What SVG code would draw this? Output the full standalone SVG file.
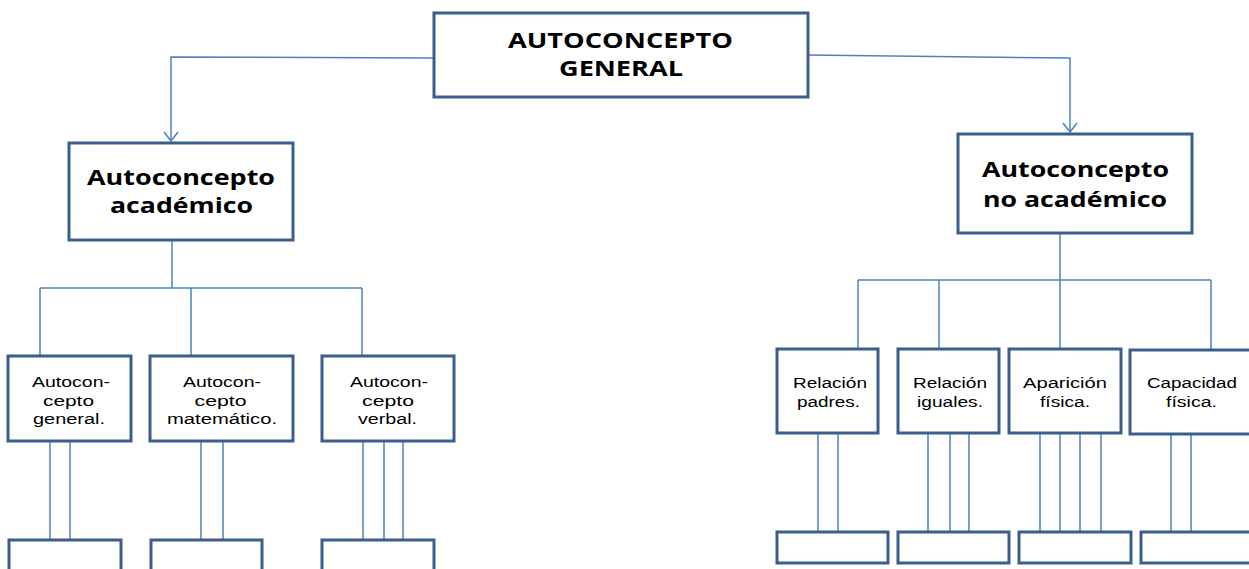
<svg xmlns="http://www.w3.org/2000/svg" width="1249" height="569" viewBox="0 0 1249 569">
<style>
.box{fill:#fff;stroke:#3B5E8C;stroke-width:3}
.con{fill:none;stroke:#4F81BD;stroke-width:1.5}
.t{font-family:"Open Sans","Liberation Sans",sans-serif;fill:#000;text-anchor:middle}
.b{font-weight:bold;font-size:22px}
.s{font-family:"Liberation Sans","Open Sans",sans-serif;font-size:15.5px}
</style>
<defs>
<marker id="arr" markerUnits="userSpaceOnUse" markerWidth="12" markerHeight="16" refX="9" refY="7" orient="auto" viewBox="-1 -1 12 16">
<path d="M0,0 L9,7 L0,14" fill="none" stroke="#4F81BD" stroke-width="1.5"/>
</marker>
</defs>
<rect width="1249" height="569" fill="#fff"/>
<g id="connectors">
<path class="con" d="M433,58 L171,57 L171,141" marker-end="url(#arr)"/>
<path class="con" d="M808,55 L1070,58 L1070,132" marker-end="url(#arr)"/>
<path class="con" d="M172,240 V288 M40,288 H362 M40,288 V356 M191,288 V356 M362,288 V356"/>
<path class="con" d="M50,441 V540 M70,441 V540 M201,441 V540 M223,441 V540 M363,441 V540 M384,441 V540 M403,441 V540"/>
<path class="con" d="M1060,233 V280 M858,280 H1211 M858,280 V349 M939,280 V349 M1060,280 V349 M1211,280 V350"/>
<path class="con" d="M818,433 V532 M838,433 V532 M928,433 V532 M950,433 V532 M969,433 V532 M1040,433 V532 M1060,433 V532 M1080,433 V532 M1101,433 V532 M1171,434 V532 M1191,434 V532"/>
</g>
<g id="n-general">
<rect class="box" x="434" y="13" width="374" height="84"/>
<text class="t b" x="620.5" y="48" textLength="225" lengthAdjust="spacingAndGlyphs">AUTOCONCEPTO</text>
<text class="t b" x="621" y="76" textLength="124" lengthAdjust="spacingAndGlyphs">GENERAL</text>
</g>
<g id="n-academico">
<rect class="box" x="69" y="143" width="224" height="97"/>
<text class="t b" x="181" y="185" textLength="188" lengthAdjust="spacingAndGlyphs">Autoconcepto</text>
<text class="t b" x="181.5" y="213" textLength="143" lengthAdjust="spacingAndGlyphs">académico</text>
</g>
<g id="n-noacademico">
<rect class="box" x="958" y="134" width="234" height="99"/>
<text class="t b" x="1075.5" y="177" textLength="187" lengthAdjust="spacingAndGlyphs">Autoconcepto</text>
<text class="t b" x="1075" y="207" textLength="184" lengthAdjust="spacingAndGlyphs">no académico</text>
</g>
<g id="n-ac-general">
<rect class="box" x="8" y="356" width="123" height="85"/>
<text class="t s" x="71" y="387" textLength="78" lengthAdjust="spacingAndGlyphs">Autocon-</text>
<text class="t s" x="68.5" y="406" textLength="51" lengthAdjust="spacingAndGlyphs">cepto</text>
<text class="t s" x="69" y="424" textLength="72" lengthAdjust="spacingAndGlyphs">general.</text>
</g>
<g id="n-ac-matematico">
<rect class="box" x="150" y="356" width="143" height="85"/>
<text class="t s" x="222" y="387" textLength="78" lengthAdjust="spacingAndGlyphs">Autocon-</text>
<text class="t s" x="220.5" y="406" textLength="52" lengthAdjust="spacingAndGlyphs">cepto</text>
<text class="t s" x="222" y="424" textLength="110" lengthAdjust="spacingAndGlyphs">matemático.</text>
</g>
<g id="n-ac-verbal">
<rect class="box" x="322" y="356" width="132" height="85"/>
<text class="t s" x="389" y="387" textLength="78" lengthAdjust="spacingAndGlyphs">Autocon-</text>
<text class="t s" x="388" y="406" textLength="52" lengthAdjust="spacingAndGlyphs">cepto</text>
<text class="t s" x="387.5" y="424" textLength="59" lengthAdjust="spacingAndGlyphs">verbal.</text>
</g>
<g id="n-bottom-left">
<rect class="box" x="9" y="540" width="112" height="40"/>
<rect class="box" x="151" y="540" width="111" height="40"/>
<rect class="box" x="322" y="540" width="112" height="40"/>
</g>
<g id="n-padres">
<rect class="box" x="777" y="349" width="101" height="84"/>
<text class="t s" x="830" y="388" textLength="74" lengthAdjust="spacingAndGlyphs">Relación</text>
<text class="t s" x="828.5" y="407" textLength="63" lengthAdjust="spacingAndGlyphs">padres.</text>
</g>
<g id="n-iguales">
<rect class="box" x="898" y="349" width="101" height="84"/>
<text class="t s" x="950" y="388" textLength="74" lengthAdjust="spacingAndGlyphs">Relación</text>
<text class="t s" x="950" y="407" textLength="66" lengthAdjust="spacingAndGlyphs">iguales.</text>
</g>
<g id="n-aparicion">
<rect class="box" x="1009" y="349" width="112" height="84"/>
<text class="t s" x="1065" y="388" textLength="84" lengthAdjust="spacingAndGlyphs">Aparición</text>
<text class="t s" x="1065" y="407" textLength="50" lengthAdjust="spacingAndGlyphs">física.</text>
</g>
<g id="n-capacidad">
<rect class="box" x="1130" y="350" width="125" height="84"/>
<text class="t s" x="1192" y="388" textLength="90" lengthAdjust="spacingAndGlyphs">Capacidad</text>
<text class="t s" x="1191.5" y="407" textLength="51" lengthAdjust="spacingAndGlyphs">física.</text>
</g>
<g id="n-bottom-right">
<rect class="box" x="777" y="532" width="111" height="31"/>
<rect class="box" x="898" y="532" width="111" height="31"/>
<rect class="box" x="1019" y="532" width="112" height="31"/>
<rect class="box" x="1141" y="532" width="115" height="31"/>
</g>
</svg>
